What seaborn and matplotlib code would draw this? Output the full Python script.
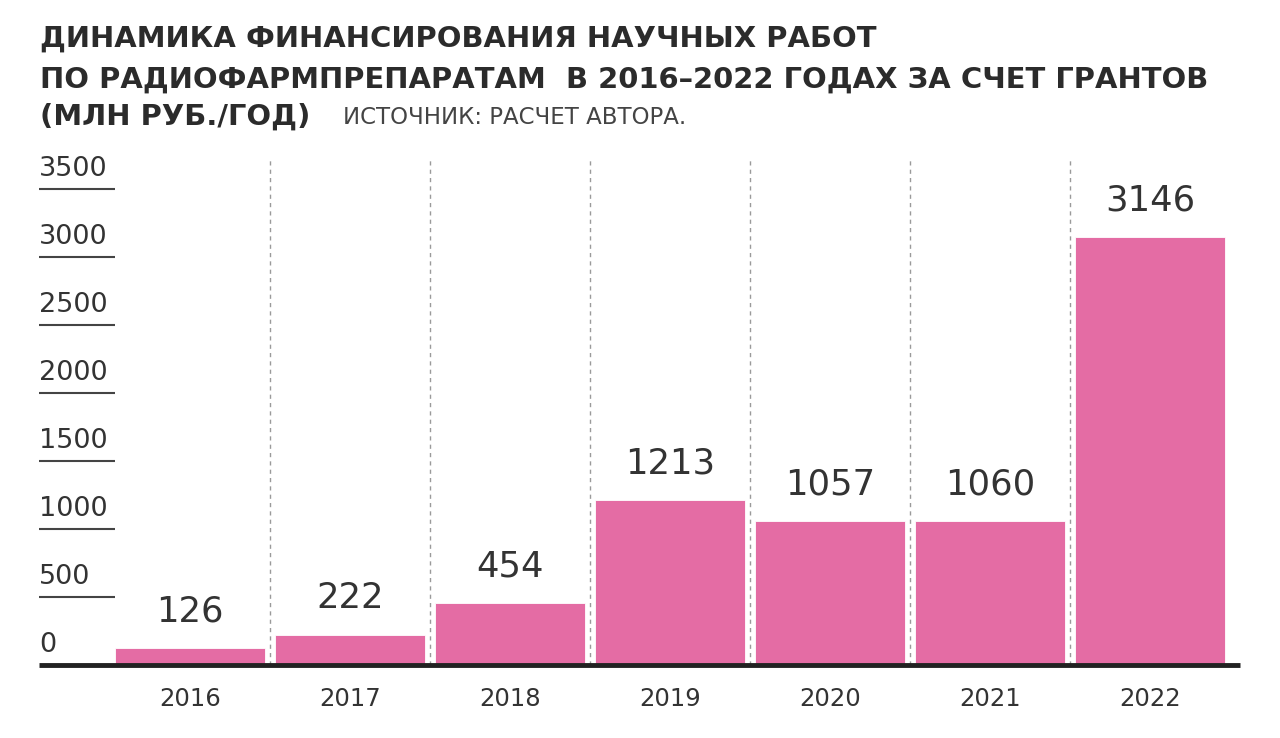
import matplotlib
matplotlib.use('agg')
import matplotlib.pyplot as plt
import seaborn as sns
import pandas as pd

# data
years = ['2016', '2017', '2018', '2019', '2020', '2021', '2022']
funding = [126, 222, 454, 1213, 1057, 1060, 3146]
yticks = [0, 500, 1000, 1500, 2000, 2500, 3000, 3500]

title_lines = ['ДИНАМИКА ФИНАНСИРОВАНИЯ НАУЧНЫХ РАБОТ',
               'ПО РАДИОФАРМПРЕПАРАТАМ  В 2016–2022 ГОДАХ ЗА СЧЕТ ГРАНТОВ',
               '(МЛН РУБ./ГОД)']
source = 'ИСТОЧНИК: РАСЧЕТ АВТОРА.'

sns.set_style('white')
plt.rcParams['font.family'] = ['DejaVu Sans']

bar_color = '#E46CA4'
text_color = '#333333'

df = pd.DataFrame({'year': years, 'value': funding})

fig = plt.figure(figsize=(12.8, 7.38), dpi=100)
ax = fig.add_axes([39 / 1280, 1 - 665 / 738, 1201 / 1280, 508 / 738])

sns.barplot(data=df, x='year', y='value', color=bar_color, width=0.94,
            saturation=1, ax=ax, edgecolor='white', linewidth=0.6)

ax.set_xlim(-0.944, 6.5625)
ax.set_ylim(0, 3735)

# dotted separators between categories
for k in range(len(years) - 1):
    ax.axvline(k + 0.5, color='#9a9a9a', linestyle=(0, (3, 3)), linewidth=1, zorder=0)

# y labels with short underline
for t in yticks:
    if t > 0:
        ax.plot([-0.944, -0.47], [t, t], color='#444444', linewidth=1.5,
                solid_capstyle='butt', clip_on=False)
    ax.annotate(str(t), xy=(-0.944, t), xytext=(0, 5), textcoords='offset points',
                ha='left', va='bottom', fontsize=19.5, color=text_color)

# baseline
ax.plot([-0.944, 6.5625], [0, 0], color='#222222', linewidth=3.5,
        solid_capstyle='butt', clip_on=False, zorder=5)

# value labels
for i, v in enumerate(funding):
    ax.annotate(str(v), xy=(i, v), xytext=(0, 14), textcoords='offset points',
                ha='center', va='bottom', fontsize=25.5, color=text_color)

ax.set_xlabel('')
ax.set_ylabel('')
ax.set_yticks([])
ax.tick_params(axis='x', length=0, pad=16, labelsize=17.5, labelcolor=text_color)
for s in ax.spines.values():
    s.set_visible(False)

# titles
ys = [47, 88, 125]
for line, y in zip(title_lines, ys):
    fig.text(40 / 1280, 1 - y / 738, line, ha='left', va='baseline',
             fontsize=20.9, fontweight='bold', color='#2b2b2b')
fig.text(343 / 1280, 1 - 124 / 738, source, ha='left', va='baseline',
         fontsize=16.5, color='#444444')

fig.savefig('out.png', dpi=100)
